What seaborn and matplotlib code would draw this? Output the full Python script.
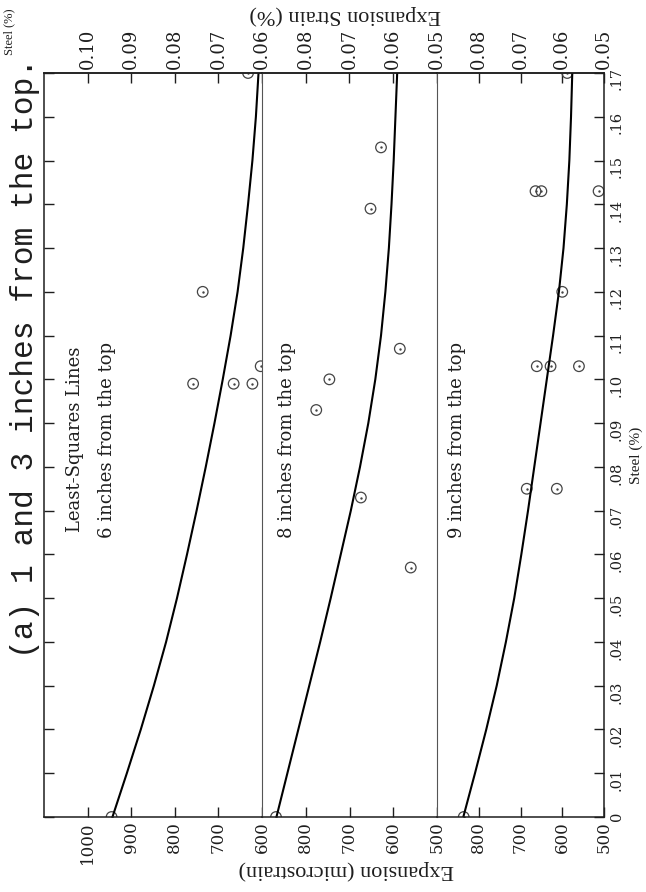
import numpy as np
import matplotlib
matplotlib.use("Agg")
import matplotlib.pyplot as plt
import seaborn as sns

# ---- data -------------------------------------------------------------
# steel content (%) at which the least-squares curves are listed
steel_grid = [0.00, 0.01, 0.02, 0.03, 0.04, 0.05, 0.06, 0.07, 0.08,
              0.09, 0.10, 0.11, 0.12, 0.13, 0.14, 0.15, 0.16, 0.17]

# least-squares curves, expansion in microstrain
fit_6in = [943, 910, 878, 848, 820, 795, 772, 750, 729,
           709, 690, 672, 656, 643, 632, 622, 614, 608]
fit_8in = [867, 842, 817, 792, 767, 743, 720, 697, 676,
           657, 641, 628, 618, 610, 604, 599, 595, 591]
fit_9in = [837, 809, 782, 757, 735, 715, 698, 682, 667,
           652, 637, 622, 608, 597, 589, 583, 579, 576]

# measured specimens
steel_6in = [0.000, 0.099, 0.099, 0.099, 0.103, 0.120, 0.170]
exp_6in = [945, 758, 665, 622, 603, 736, 632]

steel_8in = [0.000, 0.057, 0.073, 0.093, 0.100, 0.107, 0.139, 0.153]
exp_8in = [868, 560, 674, 776, 746, 585, 652, 628]

steel_9in = [0.000, 0.075, 0.075, 0.103, 0.103, 0.103, 0.120,
             0.143, 0.143, 0.143, 0.170]
exp_9in = [836, 685, 613, 661, 628, 560, 600, 664, 650, 513, 588]

panel_names = ["6 inches from the top", "8 inches from the top",
               "9 inches from the top"]
exp_limits = [(1100, 600), (900, 500), (900, 500)]
micro_ticks = [[1000, 900, 800, 700, 600], [800, 700, 600, 500],
               [800, 700, 600, 500]]
strain_ticks = [[0.10, 0.09, 0.08, 0.07, 0.06], [0.08, 0.07, 0.06, 0.05],
                [0.08, 0.07, 0.06, 0.05]]
steel_ticks = steel_grid
steel_labels = ["0"] + [f"{t:.2f}"[1:] for t in steel_ticks[1:]]

# ---- style ------------------------------------------------------------
sns.set_style("white")
plt.rcParams["font.family"] = ["DejaVu Serif"]
ink = "#1e1e1e"
serif = ["Liberation Serif", "DejaVu Serif"]

fig = plt.figure(figsize=(6.46, 8.92), dpi=100)
W, H = 646, 892
gs = fig.add_gridspec(1, 3, left=44 / W, right=604 / W,
                      bottom=1 - 817 / H, top=1 - 73 / H,
                      wspace=0, width_ratios=[218, 175, 167])

fits = [fit_6in, fit_8in, fit_9in]
pts = [(steel_6in, exp_6in), (steel_8in, exp_8in), (steel_9in, exp_9in)]
text_x = [955, 844, 851]


def to_pct(v):
    return np.asarray(v, dtype=float) / 1e4


def to_micro(p):
    return np.asarray(p, dtype=float) * 1e4


for i in range(3):
    ax = fig.add_subplot(gs[i])
    sns.lineplot(x=fits[i], y=steel_grid, orient="y", sort=True,
                 estimator=None, color="black", linewidth=1.5, ax=ax)
    s, e = pts[i]
    sns.scatterplot(x=e, y=s, marker="o", s=58, facecolor="none",
                    edgecolor="#444444", linewidth=0.9, ax=ax, legend=False)
    sns.scatterplot(x=e, y=s, marker="o", s=3, color="#444444",
                    linewidth=0, ax=ax, legend=False)
    ax.set_xlim(*exp_limits[i])
    ax.set_ylim(0, 0.17)
    ax.set_xlabel("")
    ax.set_ylabel("")

    for side in ["top", "bottom"]:
        ax.spines[side].set_color(ink)
        ax.spines[side].set_linewidth(1.1)
    ax.spines["left"].set_color(ink if i == 0 else "#555555")
    ax.spines["left"].set_linewidth(1.1 if i == 0 else 0.8)
    ax.spines["right"].set_visible(i == 2)
    ax.spines["right"].set_color(ink)
    ax.spines["right"].set_linewidth(1.1)

    # microstrain scale along the lower edge
    ax.set_xticks(micro_ticks[i])
    ax.set_xticklabels([str(t) for t in micro_ticks[i]], rotation=90,
                       fontsize=12, color=ink)
    ax.tick_params(axis="x", direction="in", length=7, width=1,
                   color=ink, pad=3, bottom=True)

    # strain (%) scale along the upper edge
    sec = ax.secondary_xaxis("top", functions=(to_pct, to_micro))
    sec.set_xticks(strain_ticks[i])
    sec.set_xticklabels([f"{t:.2f}" for t in strain_ticks[i]], rotation=90,
                        fontsize=13, color=ink)
    sec.tick_params(axis="x", direction="in", length=7, width=1,
                    color=ink, pad=3)
    sec.spines["top"].set_color(ink)
    sec.spines["top"].set_linewidth(1.1)

    # steel scale
    ax.set_yticks(steel_ticks)
    if i == 0:
        ax.tick_params(axis="y", left=True, right=False, labelleft=False,
                       direction="in", length=7, width=1, color=ink)
    elif i == 2:
        ax.set_yticklabels(steel_labels)
        ax.tick_params(axis="y", left=False, right=True, labelleft=False,
                       labelright=True, direction="in", length=7, width=1,
                       color=ink, pad=4, labelsize=10.5, labelcolor=ink,
                       labelrotation=90)
    else:
        ax.tick_params(axis="y", left=False, right=False, labelleft=False)

    ax.text(text_x[i], 0.0862, panel_names[i], rotation=90, ha="center",
            va="center", fontsize=13, color=ink, family="DejaVu Serif")
    if i == 0:
        ax.text(1028, 0.0862, "Least-Squares Lines", rotation=90,
                ha="center", va="center", fontsize=13, color=ink,
                family="DejaVu Serif")

# titles and axis names
fig.text(25 / W, 1 - 358 / H, "(a) 1 and 3 inches from the top.",
         rotation=90, ha="center", va="center", fontsize=22.5,
         family=["Liberation Mono", "DejaVu Sans Mono"], color=ink)
fig.text(345 / W, 1 - 15 / H, "Expansion Strain (%)", rotation=180,
         ha="center", va="center", fontsize=16, family=serif, color=ink)
fig.text(346 / W, 1 - 870 / H, "Expansion (microstrain)", rotation=180,
         ha="center", va="center", fontsize=16, family=serif, color=ink)
fig.text(9 / W, 1 - 32 / H, "Steel (%)", rotation=90, ha="center",
         va="center", fontsize=9, family=serif, color=ink)
fig.text(636 / W, 1 - 455 / H, "Steel (%)", rotation=90, ha="center",
         va="center", fontsize=11, family=serif, color=ink)

fig.savefig("out.png", dpi=100, facecolor="white")
